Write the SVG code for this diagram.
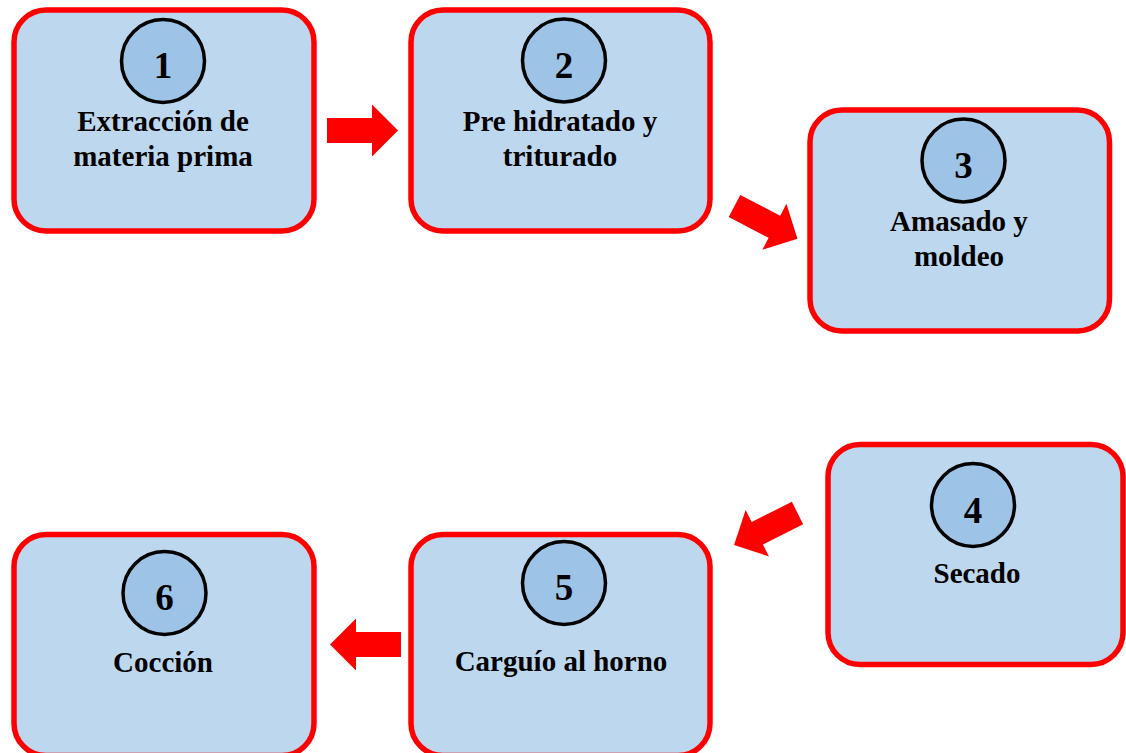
<svg xmlns="http://www.w3.org/2000/svg" xmlns:xlink="http://www.w3.org/1999/xlink" width="1126" height="753" viewBox="0 0 1126 753">
<style>
.box{fill:#BDD7EE;stroke:#FF0000;stroke-width:5.5}
.num{fill:#9DC3E6;stroke:#000;stroke-width:3.5}
.t{font-family:"Liberation Serif","Times New Roman",serif;font-weight:bold;font-size:29px;fill:#000;text-anchor:middle}
.d{font-family:"Liberation Serif","Times New Roman",serif;font-weight:bold;font-size:37px;fill:#000;text-anchor:middle}
.arr{fill:#FF0000}
</style>
<defs>
<polygon id="arrow" class="arr" points="0,-12.5 45,-12.5 45,-26 71,0 45,26 45,12.5 0,12.5"/>
</defs>
<rect width="1126" height="753" fill="#FFFFFF"/>
<g id="connectors">
<use xlink:href="#arrow" href="#arrow" transform="translate(327,130.5)"/>
<use xlink:href="#arrow" href="#arrow" transform="translate(734.5,206) rotate(27.5)"/>
<use xlink:href="#arrow" href="#arrow" transform="translate(797.5,513) rotate(153.3)"/>
<use xlink:href="#arrow" href="#arrow" transform="translate(401,644.5) rotate(180)"/>
</g>
<g id="node1">
<rect class="box" x="14" y="10" width="300" height="221" rx="32"/>
<circle class="num" cx="163" cy="61" r="41.5"/>
<text class="d" x="163" y="78">1</text>
<text class="t" x="163" y="131">Extracción de</text>
<text class="t" x="163" y="166">materia prima</text>
</g>
<g id="node2">
<rect class="box" x="411" y="10" width="299" height="221" rx="32"/>
<circle class="num" cx="564" cy="60.5" r="41.5"/>
<text class="d" x="564" y="78">2</text>
<text class="t" x="560" y="131">Pre hidratado y</text>
<text class="t" x="560" y="166">triturado</text>
</g>
<g id="node3">
<rect class="box" x="810" y="110" width="299.5" height="221" rx="32"/>
<circle class="num" cx="963.5" cy="160.5" r="41.5"/>
<text class="d" x="963.5" y="178">3</text>
<text class="t" x="959" y="231">Amasado y</text>
<text class="t" x="959" y="266">moldeo</text>
</g>
<g id="node4">
<rect class="box" x="828" y="444.5" width="295" height="220" rx="32"/>
<circle class="num" cx="973" cy="505" r="41.5"/>
<text class="d" x="973" y="523">4</text>
<text class="t" x="977" y="583">Secado</text>
</g>
<g id="node5">
<rect class="box" x="411" y="534.5" width="299" height="221" rx="32"/>
<circle class="num" cx="564" cy="583" r="41.5"/>
<text class="d" x="564" y="600">5</text>
<text class="t" x="561" y="671">Carguío al horno</text>
</g>
<g id="node6">
<rect class="box" x="14" y="534.5" width="300" height="221" rx="32"/>
<circle class="num" cx="164.5" cy="593" r="41.5"/>
<text class="d" x="164.5" y="610">6</text>
<text class="t" x="163" y="672">Cocción</text>
</g>
</svg>
